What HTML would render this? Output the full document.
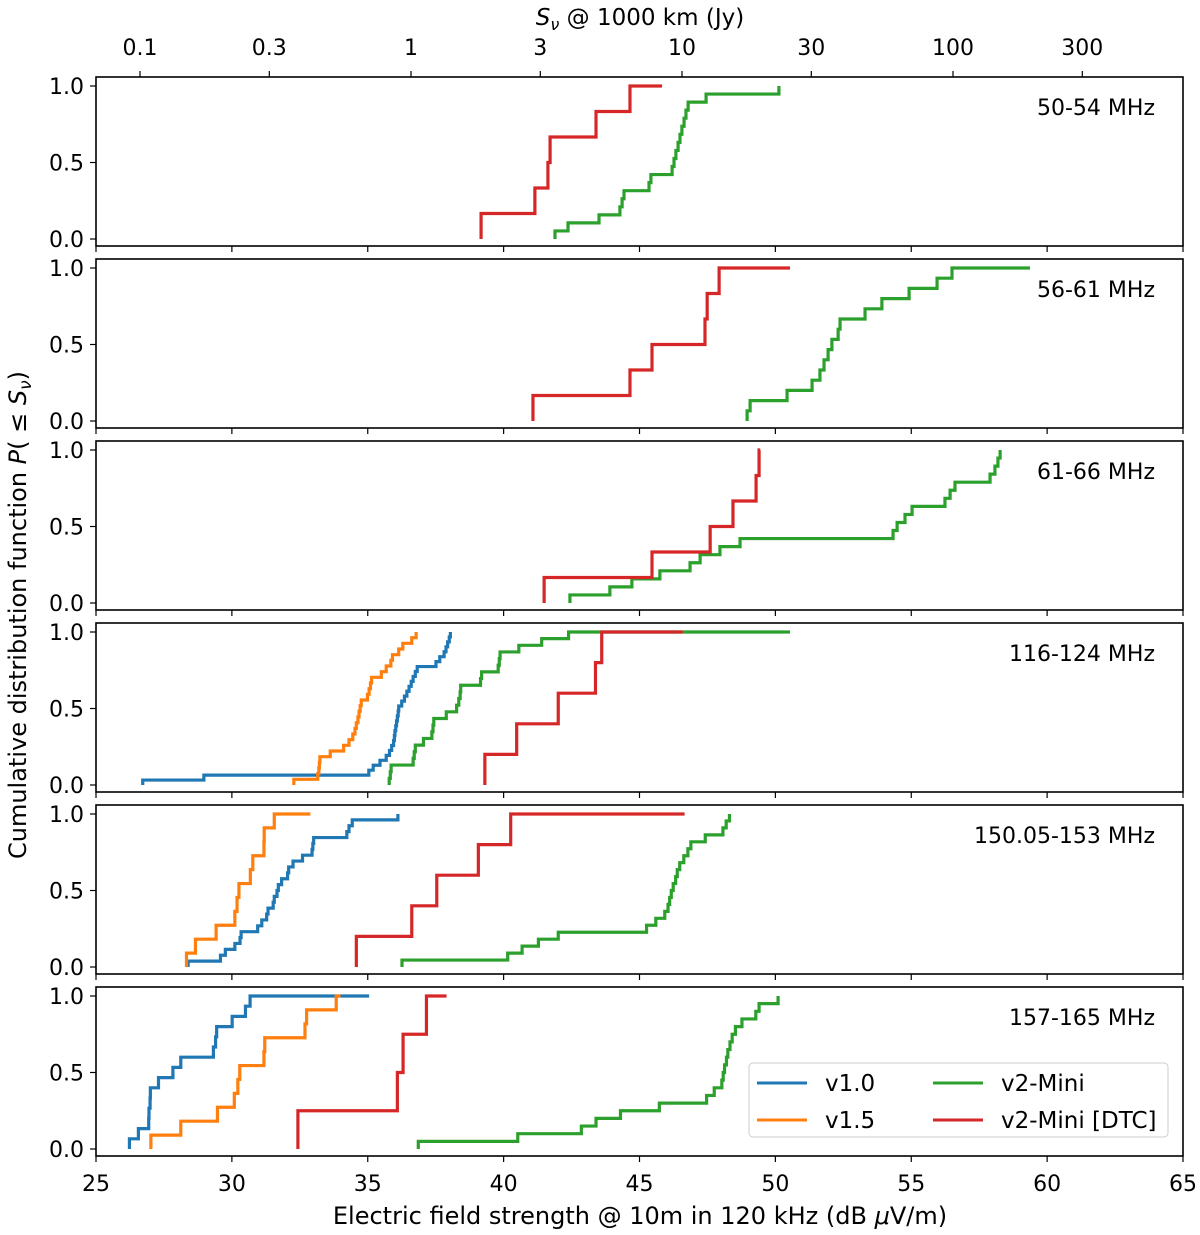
<!DOCTYPE html>
<html><head><meta charset="utf-8"><style>
body{margin:0;background:#fff;}
svg{display:block;font-family:"DejaVu Sans","Liberation Sans",sans-serif;}
</style></head><body>
<svg id="chart" width="1200" height="1235" viewBox="0 0 1200 1235" xmlns="http://www.w3.org/2000/svg"></svg>
<script>
// ---- data (dB µV/m values, each step rises 1/n) ----
const panelLabels = ["50-54 MHz","56-61 MHz","61-66 MHz","116-124 MHz","150.05-153 MHz","157-165 MHz"];
const seriesNames = ["v1.0","v1.5","v2-Mini","v2-Mini [DTC]"];
const xTicks = [25,30,35,40,45,50,55,60,65];
const yTicks = [0,0.5,1];
const yTickLabels = ["0.0","0.5","1.0"];
const topTicks = [0.1,0.3,1,3,10,30,100,300];
const topTickLabels = ["0.1","0.3","1","3","10","30","100","300"];

const p1Green = [41.89,42.37,43.51,44.28,44.36,44.43,45.35,45.42,46.20,46.27,46.34,46.42,46.49,46.56,46.64,46.71,46.79,47.45,50.13];
const p1GreenEnd = 50.13;
const p1Red = [39.17,41.15,41.63,41.71,43.40,44.65];
const p1RedEnd = 45.83;

const p2Green = [48.96,49.07,50.43,51.35,51.64,51.79,51.94,52.08,52.31,52.38,53.30,53.92,54.92,55.95,56.50];
const p2GreenEnd = 59.37;
const p2Red = [41.08,44.65,45.46,47.41,47.49,47.93];
const p2RedEnd = 50.54;

const p3Green = [42.44,43.91,44.72,45.75,46.86,47.23,47.96,48.70,54.33,54.48,54.77,55.03,56.24,56.43,56.61,57.90,58.08,58.19,58.27];
const p3GreenEnd = 58.27;
const p3Red = [41.49,45.46,47.60,48.44,49.29,49.40];
const p3RedEnd = 49.44;

const p4Blue = [26.72,28.97,35.04,35.2,35.45,35.68,35.8,35.88,35.95,35.98,36.0,36.03,36.06,36.09,36.12,36.14,36.25,36.35,36.44,36.52,36.6,36.67,36.75,36.82,37.51,37.65,37.81,37.88,37.94,38.0,38.04];
const p4BlueEnd = 38.04;
const p4Orange = [32.28,33.16,33.20,33.22,33.24,33.62,34.11,34.31,34.45,34.53,34.58,34.64,34.68,34.72,34.76,34.99,35.05,35.1,35.14,35.50,35.68,35.85,35.91,36.14,36.29,36.62,36.78];
const p4OrangeEnd = 36.78;
const p4Green = [35.79,35.83,35.86,36.67,36.71,36.75,37.05,37.36,37.40,37.43,37.89,38.27,38.35,38.40,38.42,39.15,39.19,39.80,39.84,39.87,40.56,41.40,42.39];
const p4GreenEnd = 50.54;
const p4Red = [39.31,40.48,42.01,43.38,43.61];
const p4RedEnd = 46.59;

const p5Blue = [28.39,29.58,29.76,30.11,30.30,30.34,30.95,31.10,31.28,31.33,31.52,31.56,31.66,31.71,31.83,32.05,32.09,32.25,32.60,32.95,32.98,33.01,34.23,34.31,34.43,36.11];
const p5BlueEnd = 36.11;
const p5Orange = [28.33,28.66,29.42,30.11,30.19,30.26,30.68,30.77,31.18,31.19,31.56];
const p5OrangeEnd = 32.89;
const p5Green = [36.26,40.15,40.68,41.28,42.01,45.26,45.60,45.93,46.05,46.11,46.17,46.24,46.33,46.39,46.48,46.63,46.78,46.89,47.42,48.07,48.19,48.31];
const p5GreenEnd = 48.31;
const p5Red = [34.58,36.62,37.54,39.07,40.26];
const p5RedEnd = 46.66;

const p6Blue = [26.23,26.56,26.94,26.95,26.99,27.00,27.30,27.83,28.12,29.32,29.40,29.44,30.01,30.50,30.67];
const p6BlueEnd = 35.05;
const p6Orange = [27.02,28.12,29.47,30.09,30.22,30.29,31.18,31.21,32.69,32.75,33.84];
const p6OrangeEnd = 34.00;
const p6Green = [36.86,40.52,42.86,43.40,44.30,45.73,47.47,47.75,48.03,48.08,48.13,48.20,48.25,48.33,48.41,48.53,48.77,49.28,49.40,50.10];
const p6GreenEnd = 50.10;
const p6Red = [32.43,36.09,36.30,37.16];
const p6RedEnd = 37.90;

const panels = [
  [[null,null],[null,null],[p1Green,p1GreenEnd],[p1Red,p1RedEnd]],
  [[null,null],[null,null],[p2Green,p2GreenEnd],[p2Red,p2RedEnd]],
  [[null,null],[null,null],[p3Green,p3GreenEnd],[p3Red,p3RedEnd]],
  [[p4Blue,p4BlueEnd],[p4Orange,p4OrangeEnd],[p4Green,p4GreenEnd],[p4Red,p4RedEnd]],
  [[p5Blue,p5BlueEnd],[p5Orange,p5OrangeEnd],[p5Green,p5GreenEnd],[p5Red,p5RedEnd]],
  [[p6Blue,p6BlueEnd],[p6Orange,p6OrangeEnd],[p6Green,p6GreenEnd],[p6Red,p6RedEnd]]
];
const colors = ["#1f77b4","#ff7f0e","#2ca02c","#d62728"];

// ---- layout ----
const X0 = 96, X1 = 1183, panelTops = [77,259,441,623,805,987], PH = 169;
const xs = v => X0 + (v - 25) / 40 * (X1 - X0);
const ys = (top, p) => top + 162 - p * 153;
const topX = s => 411 + Math.log10(s) * 271;
const NS = "http://www.w3.org/2000/svg";
const svg = document.getElementById("chart");
function mk(tag, attrs, parent) {
  const e = document.createElementNS(NS, tag);
  for (const k in attrs) e.setAttribute(k, attrs[k]);
  (parent || svg).appendChild(e);
  return e;
}

panels.forEach((series, pi) => {
  const top = panelTops[pi];
  const g = mk("g", {});
  
  
  series.forEach((s, si) => {
    const vals = s[0];
    if (!vals) return;
    const n = vals.length;
    let d = "M" + xs(vals[0]).toFixed(2) + "," + ys(top, 0).toFixed(2);
    for (let i = 0; i < n; i++) {
      d += " V" + ys(top, (i + 1) / n).toFixed(2);
      const nx = i + 1 < n ? vals[i + 1] : s[1];
      d += " H" + xs(nx).toFixed(2);
    }
    const p = mk("path", {d: d, fill: "none", stroke: colors[si], "stroke-width": 3.2, "stroke-linejoin": "miter"}, g);
    
    
  });
  const frame = mk("rect", {x: X0, y: top, width: X1 - X0, height: PH, fill: "none", stroke: "#000", "stroke-width": 1.6}, g);
  
  
  yTicks.forEach((t, ti) => {
    const y = ys(top, t);
    mk("line", {x1: X0 - 6, x2: X0, y1: y, y2: y, stroke: "#000", "stroke-width": 1.2}, g);
    const tl = mk("text", {x: X0 - 12, y: y + 8, "text-anchor": "end", "font-size": 22}, g);
    tl.textContent = yTickLabels[ti];
    
    
  });
  xTicks.forEach(t => {
    mk("line", {x1: xs(t), x2: xs(t), y1: top + PH, y2: top + PH + 6, stroke: "#000", "stroke-width": 1.2}, g);
  });
  const lab = mk("text", {x: 1155, y: top + 38, "text-anchor": "end", "font-size": 22}, g);
  lab.textContent = panelLabels[pi];
  
  
});

xTicks.forEach(t => {
  const tl = mk("text", {x: xs(t), y: 1191, "text-anchor": "middle", "font-size": 22});
  tl.textContent = t;
  
  
});
topTicks.forEach((t, i) => {
  mk("line", {x1: topX(t), x2: topX(t), y1: 71, y2: 77, stroke: "#000", "stroke-width": 1.2});
  const tl = mk("text", {x: topX(t), y: 55, "text-anchor": "middle", "font-size": 22});
  tl.textContent = topTickLabels[i];
  
  
});
</script>
<script>
(function(){
  const svg = document.getElementById("chart");
  const NS = "http://www.w3.org/2000/svg";
  function t(x,y,txt,attrs){const e=document.createElementNS(NS,"text");e.setAttribute("x",x);e.setAttribute("y",y);for(const k in attrs)e.setAttribute(k,attrs[k]);e.innerHTML=txt;svg.appendChild(e);return e;}
  const top = t(640,25,'<tspan font-style="italic">S</tspan><tspan font-style="italic" font-size="16" dy="5">ν</tspan><tspan dy="-5"> @ 1000 km (Jy)</tspan>',{"text-anchor":"middle","font-size":23});
  
  
  const xt = t(640,1224,'Electric field strength @ 10m in 120 kHz (dB <tspan font-style="italic">μ</tspan>V/m)',{"text-anchor":"middle","font-size":24});
  
  
  const yt = t(0,0,'Cumulative distribution function <tspan font-style="italic">P</tspan>( ≤ <tspan font-style="italic">S</tspan><tspan font-style="italic" font-size="17" dy="5">ν</tspan><tspan dy="-5">)</tspan>',{"text-anchor":"middle","font-size":24,"transform":"translate(26,615) rotate(-90)"});
  
  

  const lg = document.createElementNS(NS,"g");
  
  
  svg.appendChild(lg);
  const box = document.createElementNS(NS,"rect");
  box.setAttribute("x",749);box.setAttribute("y",1063);box.setAttribute("width",419);box.setAttribute("height",74);
  box.setAttribute("rx",4);box.setAttribute("fill","#fff");box.setAttribute("fill-opacity","0.85");box.setAttribute("stroke","#ccc");
  lg.appendChild(box);
  const items=[["v1.0","#1f77b4",757,1083],["v1.5","#ff7f0e",757,1120],["v2-Mini","#2ca02c",933,1083],["v2-Mini [DTC]","#d62728",933,1120]];
  items.forEach(it=>{
    const l=document.createElementNS(NS,"line");
    l.setAttribute("x1",it[2]);l.setAttribute("x2",it[2]+50);l.setAttribute("y1",it[3]);l.setAttribute("y2",it[3]);
    l.setAttribute("stroke",it[1]);l.setAttribute("stroke-width",3);
    lg.appendChild(l);
    const tx=document.createElementNS(NS,"text");
    tx.setAttribute("x",it[2]+68);tx.setAttribute("y",it[3]+8);tx.setAttribute("font-size",23);
    tx.textContent=it[0];
    
    
    lg.appendChild(tx);
  });
})();
</script>
</body></html>
